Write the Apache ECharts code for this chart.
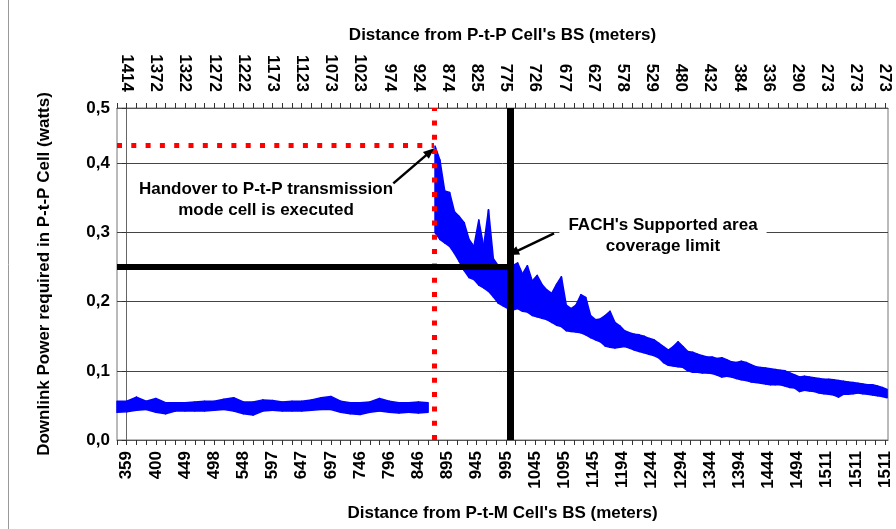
<!DOCTYPE html>
<html>
<head>
<meta charset="utf-8">
<script src="https://cdn.jsdelivr.net/npm/echarts@6/dist/echarts.min.js"></script>
<style>
  html, body { margin: 0; padding: 0; background: #fff; }
  #main { width: 896px; height: 529px; }
</style>
</head>
<body>
<div id="main"></div>
<script>
// tick labels (both distance axes share the same 27 slots)
const bottomLabels = ['359', '400', '449', '498', '548', '597', '647', '697', '746', '796', '846', '895', '945', '995',
  '1045', '1095', '1145', '1194', '1244', '1294', '1344', '1394', '1444', '1494', '1511', '1511', '1511']
const topLabels = ['1414', '1372', '1322', '1272', '1222', '1173', '1123', '1073', '1023', '974', '924', '874', '825', '775',
  '726', '677', '627', '578', '529', '480', '432', '384', '336', '290', '273', '273', '273']
const yTickLabels = ['0,0', '0,1', '0,2', '0,3', '0,4', '0,5']

// power before handover (upper / lower edge of the noisy trace), one sample every 1/3 label slot
const ptmStart = -1 / 3
const ptmStep = 1 / 3
const ptmHigh = [0.056, 0.056, 0.062, 0.056, 0.060, 0.054, 0.054, 0.054, 0.055, 0.056, 0.056, 0.059, 0.061, 0.055, 0.055,
  0.058, 0.057, 0.055, 0.056, 0.056, 0.058, 0.061, 0.063, 0.056, 0.054, 0.054, 0.055, 0.060, 0.056, 0.054, 0.054, 0.055, 0.054]
const ptmLow = [0.040, 0.041, 0.043, 0.044, 0.040, 0.038, 0.042, 0.042, 0.042, 0.042, 0.043, 0.044, 0.042, 0.038, 0.036,
  0.042, 0.043, 0.042, 0.042, 0.042, 0.043, 0.044, 0.044, 0.040, 0.038, 0.037, 0.040, 0.042, 0.040, 0.039, 0.040, 0.039, 0.040]

// power after handover, one sample every 1/6 label slot
const ptpStart = 10.57
const ptpStep = 1 / 6
const ptpHigh = [0.425, 0.405, 0.36, 0.358, 0.33, 0.323, 0.314, 0.29, 0.28, 0.318,
  0.28, 0.333, 0.262, 0.252, 0.25, 0.25, 0.252, 0.256, 0.24, 0.252,
  0.23, 0.238, 0.225, 0.217, 0.212, 0.225, 0.236, 0.195, 0.19, 0.195,
  0.21, 0.206, 0.18, 0.174, 0.175, 0.18, 0.186, 0.17, 0.165, 0.158,
  0.155, 0.153, 0.152, 0.15, 0.147, 0.145, 0.14, 0.135, 0.13, 0.135,
  0.142, 0.135, 0.128, 0.127, 0.124, 0.122, 0.12, 0.12, 0.118, 0.119,
  0.116, 0.113, 0.112, 0.114, 0.112, 0.109, 0.106, 0.105, 0.104, 0.103,
  0.102, 0.101, 0.1, 0.097, 0.094, 0.091, 0.092, 0.091, 0.09, 0.089,
  0.088, 0.088, 0.087, 0.086, 0.085, 0.084, 0.083, 0.082, 0.081, 0.08,
  0.08, 0.078, 0.076, 0.073]
const ptpLow = [0.30, 0.29, 0.285, 0.28, 0.27, 0.258, 0.245, 0.235, 0.232, 0.224,
  0.22, 0.215, 0.207, 0.198, 0.194, 0.19, 0.188, 0.19, 0.186, 0.185,
  0.18, 0.178, 0.176, 0.174, 0.17, 0.166, 0.164, 0.158, 0.157, 0.156,
  0.155, 0.152, 0.148, 0.145, 0.142, 0.136, 0.134, 0.133, 0.134, 0.135,
  0.133, 0.13, 0.128, 0.126, 0.124, 0.122, 0.119, 0.112, 0.108, 0.107,
  0.106, 0.105, 0.1, 0.098, 0.098, 0.097, 0.097, 0.096, 0.094, 0.091,
  0.092, 0.091, 0.089, 0.087, 0.086, 0.084, 0.083, 0.082, 0.081, 0.08,
  0.08, 0.08, 0.078, 0.076, 0.075, 0.07, 0.072, 0.071, 0.07, 0.068,
  0.067, 0.066, 0.065, 0.062, 0.066, 0.066, 0.067, 0.068, 0.067, 0.066,
  0.065, 0.064, 0.063, 0.061]

// reference markers
const handoverX = 10.535
const handoverPower = 0.426
const fachLimitX = 13.14
const fachLimitPower = 0.25

const xMin = -1 / 3
const xMax = 26.1
const yMax = 0.48
const BLUE = '#0000ff'
const FONT = '"Liberation Sans", Arial, sans-serif'

const labelSlots = bottomLabels.map((_, i) => i)
const tickSlots = []
for (let k = -1; k <= 78; k++) tickSlots.push(k / 3)

// each item is one segment of the trace: [x0, low0, high0, x1, low1, high1]
function bandData(xStart, xStep, low, high) {
  const items = []
  for (let i = 0; i < low.length - 1; i++) {
    items.push([xStart + i * xStep, low[i], high[i], xStart + (i + 1) * xStep, low[i + 1], high[i + 1]])
  }
  return items
}

function renderBand(params, api) {
  const a = api.coord([api.value(0), api.value(2)])
  const b = api.coord([api.value(3), api.value(5)])
  const c = api.coord([api.value(3), api.value(4)])
  const d = api.coord([api.value(0), api.value(1)])
  return {
    type: 'polygon',
    shape: { points: [a, b, c, d] },
    style: { fill: BLUE, stroke: BLUE, lineWidth: 1.5, lineJoin: 'round' }
  }
}

function bandSeries(data) {
  return {
    type: 'custom', silent: true, renderItem: renderBand, data: data,
    encode: { x: [0, 3], y: [1, 2, 4, 5] }
  }
}

const redDots = { color: '#ff0000', width: 5, type: [5, 9.3], cap: 'butt' }

const myChart = echarts.init(document.getElementById('main'), null, { renderer: 'canvas' })
const labelStyle = { color: '#000', fontSize: 17, fontWeight: 'bold', fontFamily: FONT }
const nameStyle = { color: '#000', fontSize: 17, fontWeight: 'bold', fontFamily: FONT }

const option = {
  animation: false,
  backgroundColor: '#fff',
  grid: { left: 117, right: 8, top: 108, bottom: 89, show: true, borderColor: '#777', borderWidth: 1 },
  xAxis: [
    {
      type: 'value', position: 'bottom', min: xMin, max: xMax,
      name: 'Distance from P-t-M Cell\'s BS (meters)', nameLocation: 'middle', nameGap: 65, nameTextStyle: nameStyle,
      axisLine: { lineStyle: { color: '#555' } },
      axisTick: { show: true, length: 5, customValues: tickSlots, lineStyle: { color: '#333' } },
      axisLabel: Object.assign({ rotate: 90, margin: 11, customValues: labelSlots,
        formatter: (v) => bottomLabels[Math.round(v)] }, labelStyle),
      splitLine: { show: false }
    },
    {
      type: 'value', position: 'top', min: xMin, max: xMax,
      name: 'Distance from P-t-P Cell\'s BS (meters)', nameLocation: 'middle', nameGap: 64, nameTextStyle: nameStyle,
      axisLine: { lineStyle: { color: '#555' } },
      axisTick: { show: true, length: 5, customValues: tickSlots, lineStyle: { color: '#333' } },
      axisLabel: Object.assign({ rotate: 90, margin: 16, customValues: labelSlots,
        formatter: (v) => topLabels[Math.round(v)] }, labelStyle),
      splitLine: { show: false }
    }
  ],
  yAxis: {
    type: 'value', min: 0, max: yMax, interval: 0.1,
    name: 'Downlink Power required in P-t-P Cell (watts)', nameLocation: 'middle', nameGap: 64, nameRotate: 90,
    nameTextStyle: nameStyle,
    axisLine: { show: true, lineStyle: { color: '#666' } },
    axisTick: { show: true, length: 5, lineStyle: { color: '#333' } },
    axisLabel: Object.assign({ margin: 7, formatter: (v, i) => yTickLabels[i] }, labelStyle),
    splitLine: { show: true, lineStyle: { color: '#444', width: 1 } }
  },
  graphic: [
    {
      type: 'line', silent: true, z: 100,
      shape: { x1: 8.5, y1: 0, x2: 8.5, y2: 529 },
      style: { stroke: '#999', lineWidth: 1 }
    },
    {
      type: 'text', x: 266, y: 200, z: 100, silent: true,
      style: {
        text: 'Handover to P-t-P transmission\nmode cell is executed',
        font: 'bold 17px ' + FONT, fill: '#000', align: 'center', verticalAlign: 'middle', lineHeight: 21
      }
    },
    {
      type: 'text', x: 663, y: 236, z: 100, silent: true,
      style: {
        text: 'FACH\'s Supported area\ncoverage limit',
        font: 'bold 17px ' + FONT, fill: '#000', align: 'center', verticalAlign: 'middle', lineHeight: 21,
        backgroundColor: '#fff', padding: [0, 9]
      }
    }
  ],
  series: [
    bandSeries(bandData(ptmStart, ptmStep, ptmLow, ptmHigh)),
    bandSeries(bandData(ptpStart, ptpStep, ptpLow, ptpHigh)),
    {
      type: 'line', data: [], silent: true,
      markLine: {
        silent: true,
        animation: false,
        symbol: 'none',
        label: { show: false },
        emphasis: { disabled: true },
        data: [
          [{ coord: [xMin, handoverPower], lineStyle: redDots }, { coord: [handoverX, handoverPower] }],
          [{ coord: [handoverX, 0], lineStyle: redDots }, { coord: [handoverX, yMax] }],
          [{ coord: [xMin, fachLimitPower], lineStyle: { color: '#000', width: 6, type: 'solid' } }, { coord: [fachLimitX, fachLimitPower] }],
          [{ coord: [fachLimitX, 0], lineStyle: { color: '#000', width: 7, type: 'solid' } }, { coord: [fachLimitX, yMax] }],
          [{ coord: [9.14, 0.371], symbol: 'none', lineStyle: { color: '#000', width: 2.5, type: 'solid' } },
            { coord: [10.40, 0.4166], symbol: 'triangle', symbolSize: [9, 11] }],
          [{ coord: [14.65, 0.2987], symbol: 'none', lineStyle: { color: '#000', width: 2.5, type: 'solid' } },
            { coord: [13.25, 0.2707], symbol: 'triangle', symbolSize: [9, 11] }]
        ]
      }
    }
  ]
}

option && myChart.setOption(option)
</script>
</body>
</html>
